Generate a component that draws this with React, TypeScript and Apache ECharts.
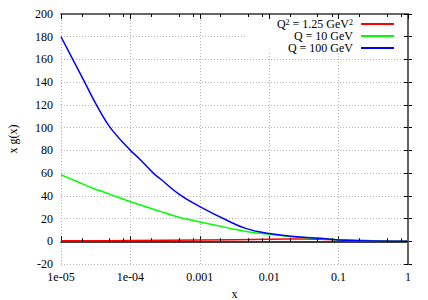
import React, { useEffect, useRef } from 'react';
import * as echarts from 'echarts';

const FONT = "'Liberation Serif', 'DejaVu Serif', serif";

const xTickValues = [1e-5, 1e-4, 1e-3, 1e-2, 0.1, 1];
const xTickLabels = ['1e-05', '1e-04', '0.001', '0.01', '0.1', '1'];
const yTickValues = [-20, 0, 20, 40, 60, 80, 100, 120, 140, 160, 180, 200];
const minorTickValues = [2e-5, 5e-5, 8e-5, 2e-4, 5e-4, 8e-4, 2e-3, 5e-3, 8e-3, 2e-2, 5e-2, 8e-2, 0.2, 0.5, 0.8];
const seriesNames = ['Q2 = 1.25 GeV2', 'Q = 10 GeV', 'Q = 100 GeV'];
const legendLabels = ['Q{sup|2} = 1.25 GeV{sup|2}', 'Q = 10 GeV', 'Q = 100 GeV'];
const seriesColors = ['#ff0000', '#00ff00', '#0000ff'];

const redX = [1e-5, 1e-4, 1e-3, 1e-2, 0.0316, 0.1, 0.316, 0.631, 1];
const redY = [0.4, 0.6, 1.1, 1.8, 2.0, 1.3, 0.5, 0.1, 0];
const greenX = [1e-5, 1.7e-5, 2.88e-5, 5.13e-5, 1e-4, 2.69e-4, 5.13e-4, 1e-3, 2.45e-3, 4.68e-3, 1e-2, 0.019, 0.0537, 0.1, 0.316, 1];
const greenY = [58.5, 52.6, 46.7, 41.3, 34.8, 26.3, 20.9, 17.0, 12.0, 8.7, 6.1, 4.3, 2.4, 1.2, 0.2, 0];
const blueX = [1e-5, 2.19e-5, 3.24e-5, 5.13e-5, 1e-4, 1.38e-4, 2.14e-4, 2.69e-4, 5.13e-4, 1e-3, 2.45e-3, 4.68e-3, 1e-2, 0.019, 0.0537, 0.1, 0.316, 1];
const blueY = [180, 140, 120, 100, 80, 72, 60, 55, 41, 30.5, 18.5, 11.1, 6.8, 4.6, 2.6, 1.2, 0.2, 0];

const yMin = -20;
const yMax = 200;
const yStep = 20;
const xMin = 1e-5;
const xMax = 1;

const zip = (xs: number[], ys: number[]) => xs.map((x, i) => [x, ys[i]]);

export default function App() {
  const ref = useRef<HTMLDivElement>(null);
  useEffect(() => {
    if (!ref.current) return;
    const chart = echarts.init(ref.current, undefined, { renderer: 'svg' });
    const minorLog = minorTickValues.map((v) => Math.log10(v));
    const grid = { left: 61, top: 14, width: 347, height: 250 };
    const tickStyleMajor = { show: true, inside: true, length: 5, lineStyle: { color: '#000', width: 1 } };
    const tickStyleMinor = { show: true, inside: true, length: 3, lineStyle: { color: '#000', width: 1 } };
    const serifRich = { s: { fontFamily: FONT, fontSize: 12, color: '#000' } };
    const textEl = (text: string, x: number, y: number, align: string, vAlign: string, rotation = 0) => ({
      type: 'text', x, y, rotation, z: 5,
      style: { text: '{s|' + text + '}', rich: serifRich, fontFamily: FONT, fontSize: 12, fill: '#000', align, verticalAlign: vAlign },
    });
    chart.setOption({
      animation: false,
      backgroundColor: '#fff',
      textStyle: { fontFamily: FONT },
      grid,
      xAxis: [
        {
          type: 'log', logBase: 10, min: xMin, max: xMax, position: 'bottom', z: 0,
          axisLine: { show: true, lineStyle: { color: '#000', width: 1.5 } },
          axisTick: tickStyleMajor,
          minorTick: { show: false },
          axisLabel: { show: false },
          splitLine: { show: true, lineStyle: { color: '#b4b4b4', type: [1, 2], width: 1 } },
        },
        {
          type: 'value', min: -5, max: 0, position: 'bottom', z: 5,
          axisLine: { show: false },
          axisTick: { ...tickStyleMinor, customValues: minorLog },
          axisLabel: { show: false },
          splitLine: { show: false },
        },
        {
          type: 'log', logBase: 10, min: xMin, max: xMax, position: 'top', z: 5,
          axisLine: { show: true, lineStyle: { color: '#666', width: 1.8 } },
          axisTick: tickStyleMajor,
          axisLabel: { show: false },
          splitLine: { show: false },
        },
        {
          type: 'value', min: -5, max: 0, position: 'top', z: 5,
          axisLine: { show: false },
          axisTick: { ...tickStyleMinor, customValues: minorLog },
          axisLabel: { show: false },
          splitLine: { show: false },
        },
      ],
      yAxis: [
        {
          type: 'value', min: yMin, max: yMax, interval: yStep, position: 'left', z: 0,
          axisLine: { show: true, lineStyle: { color: '#000', width: 1.5 } },
          axisTick: { ...tickStyleMajor, length: 4 },
          axisLabel: { show: false },
          splitLine: { show: true, lineStyle: { color: '#b4b4b4', type: [1, 2], width: 1 } },
        },
        {
          type: 'value', min: yMin, max: yMax, interval: yStep, position: 'right', z: 5,
          axisLine: { show: true, lineStyle: { color: '#666', width: 1.8 } },
          axisTick: { ...tickStyleMajor, length: 4 },
          axisLabel: { show: false },
          splitLine: { show: false },
        },
      ],
      legend: {
        orient: 'vertical', right: 34, top: 18, align: 'right', padding: 0, itemGap: 0,
        itemWidth: 33, itemHeight: 2, icon: 'rect',
        data: seriesNames,
        formatter: (name: string) => legendLabels[seriesNames.indexOf(name)],
        textStyle: {
          fontFamily: FONT, fontSize: 12, color: '#000', lineHeight: 11.5, padding: [0, 3, 0, 0],
          rich: { sup: { fontFamily: FONT, fontSize: 8, color: '#000', verticalAlign: 'top', lineHeight: 11.5 } },
        },
      },
      series: [
        { name: seriesNames[0], data: zip(redX, redY) },
        { name: seriesNames[1], data: zip(greenX, greenY) },
        { name: seriesNames[2], data: zip(blueX, blueY) },
      ].map((s, i) => ({
        ...s,
        type: 'line', xAxisIndex: 0, yAxisIndex: 0, smooth: 0.4, showSymbol: false, symbol: 'none', z: 3,
        color: seriesColors[i],
        lineStyle: { color: seriesColors[i], width: 1.5 },
      })),
    });

    const toPx = (x: number, y: number) => chart.convertToPixel({ xAxisIndex: 0, yAxisIndex: 0 }, [x, y]) as number[];
    const bottomLeft = toPx(xMin, yMin);
    const topRight = toPx(xMax, yMax);
    const graphics: any[] = [];
    graphics.push({
      type: 'rect', z: 1,
      shape: { x: 247, y: topRight[1] + 1, width: topRight[0] - 2 - 247, height: 37 },
      style: { fill: '#fff' },
    });
    xTickValues.forEach((v, i) => {
      const p = toPx(v, yMin);
      graphics.push(textEl(xTickLabels[i], p[0], bottomLeft[1] + 7, 'center', 'top'));
    });
    yTickValues.forEach((v) => {
      const p = toPx(xMin, v);
      graphics.push(textEl(String(v), bottomLeft[0] - 8, p[1], 'right', 'middle'));
    });
    graphics.push(textEl('x g(x)', 13, (bottomLeft[1] + topRight[1]) / 2, 'center', 'middle', Math.PI / 2));
    graphics.push(textEl('x', (bottomLeft[0] + topRight[0]) / 2, 294, 'center', 'middle'));
    chart.setOption({ graphic: graphics });

    return () => chart.dispose();
  }, []);
  return <div ref={ref} style={{ position: 'fixed', left: 0, top: 0, width: 428, height: 300 }} />;
}
